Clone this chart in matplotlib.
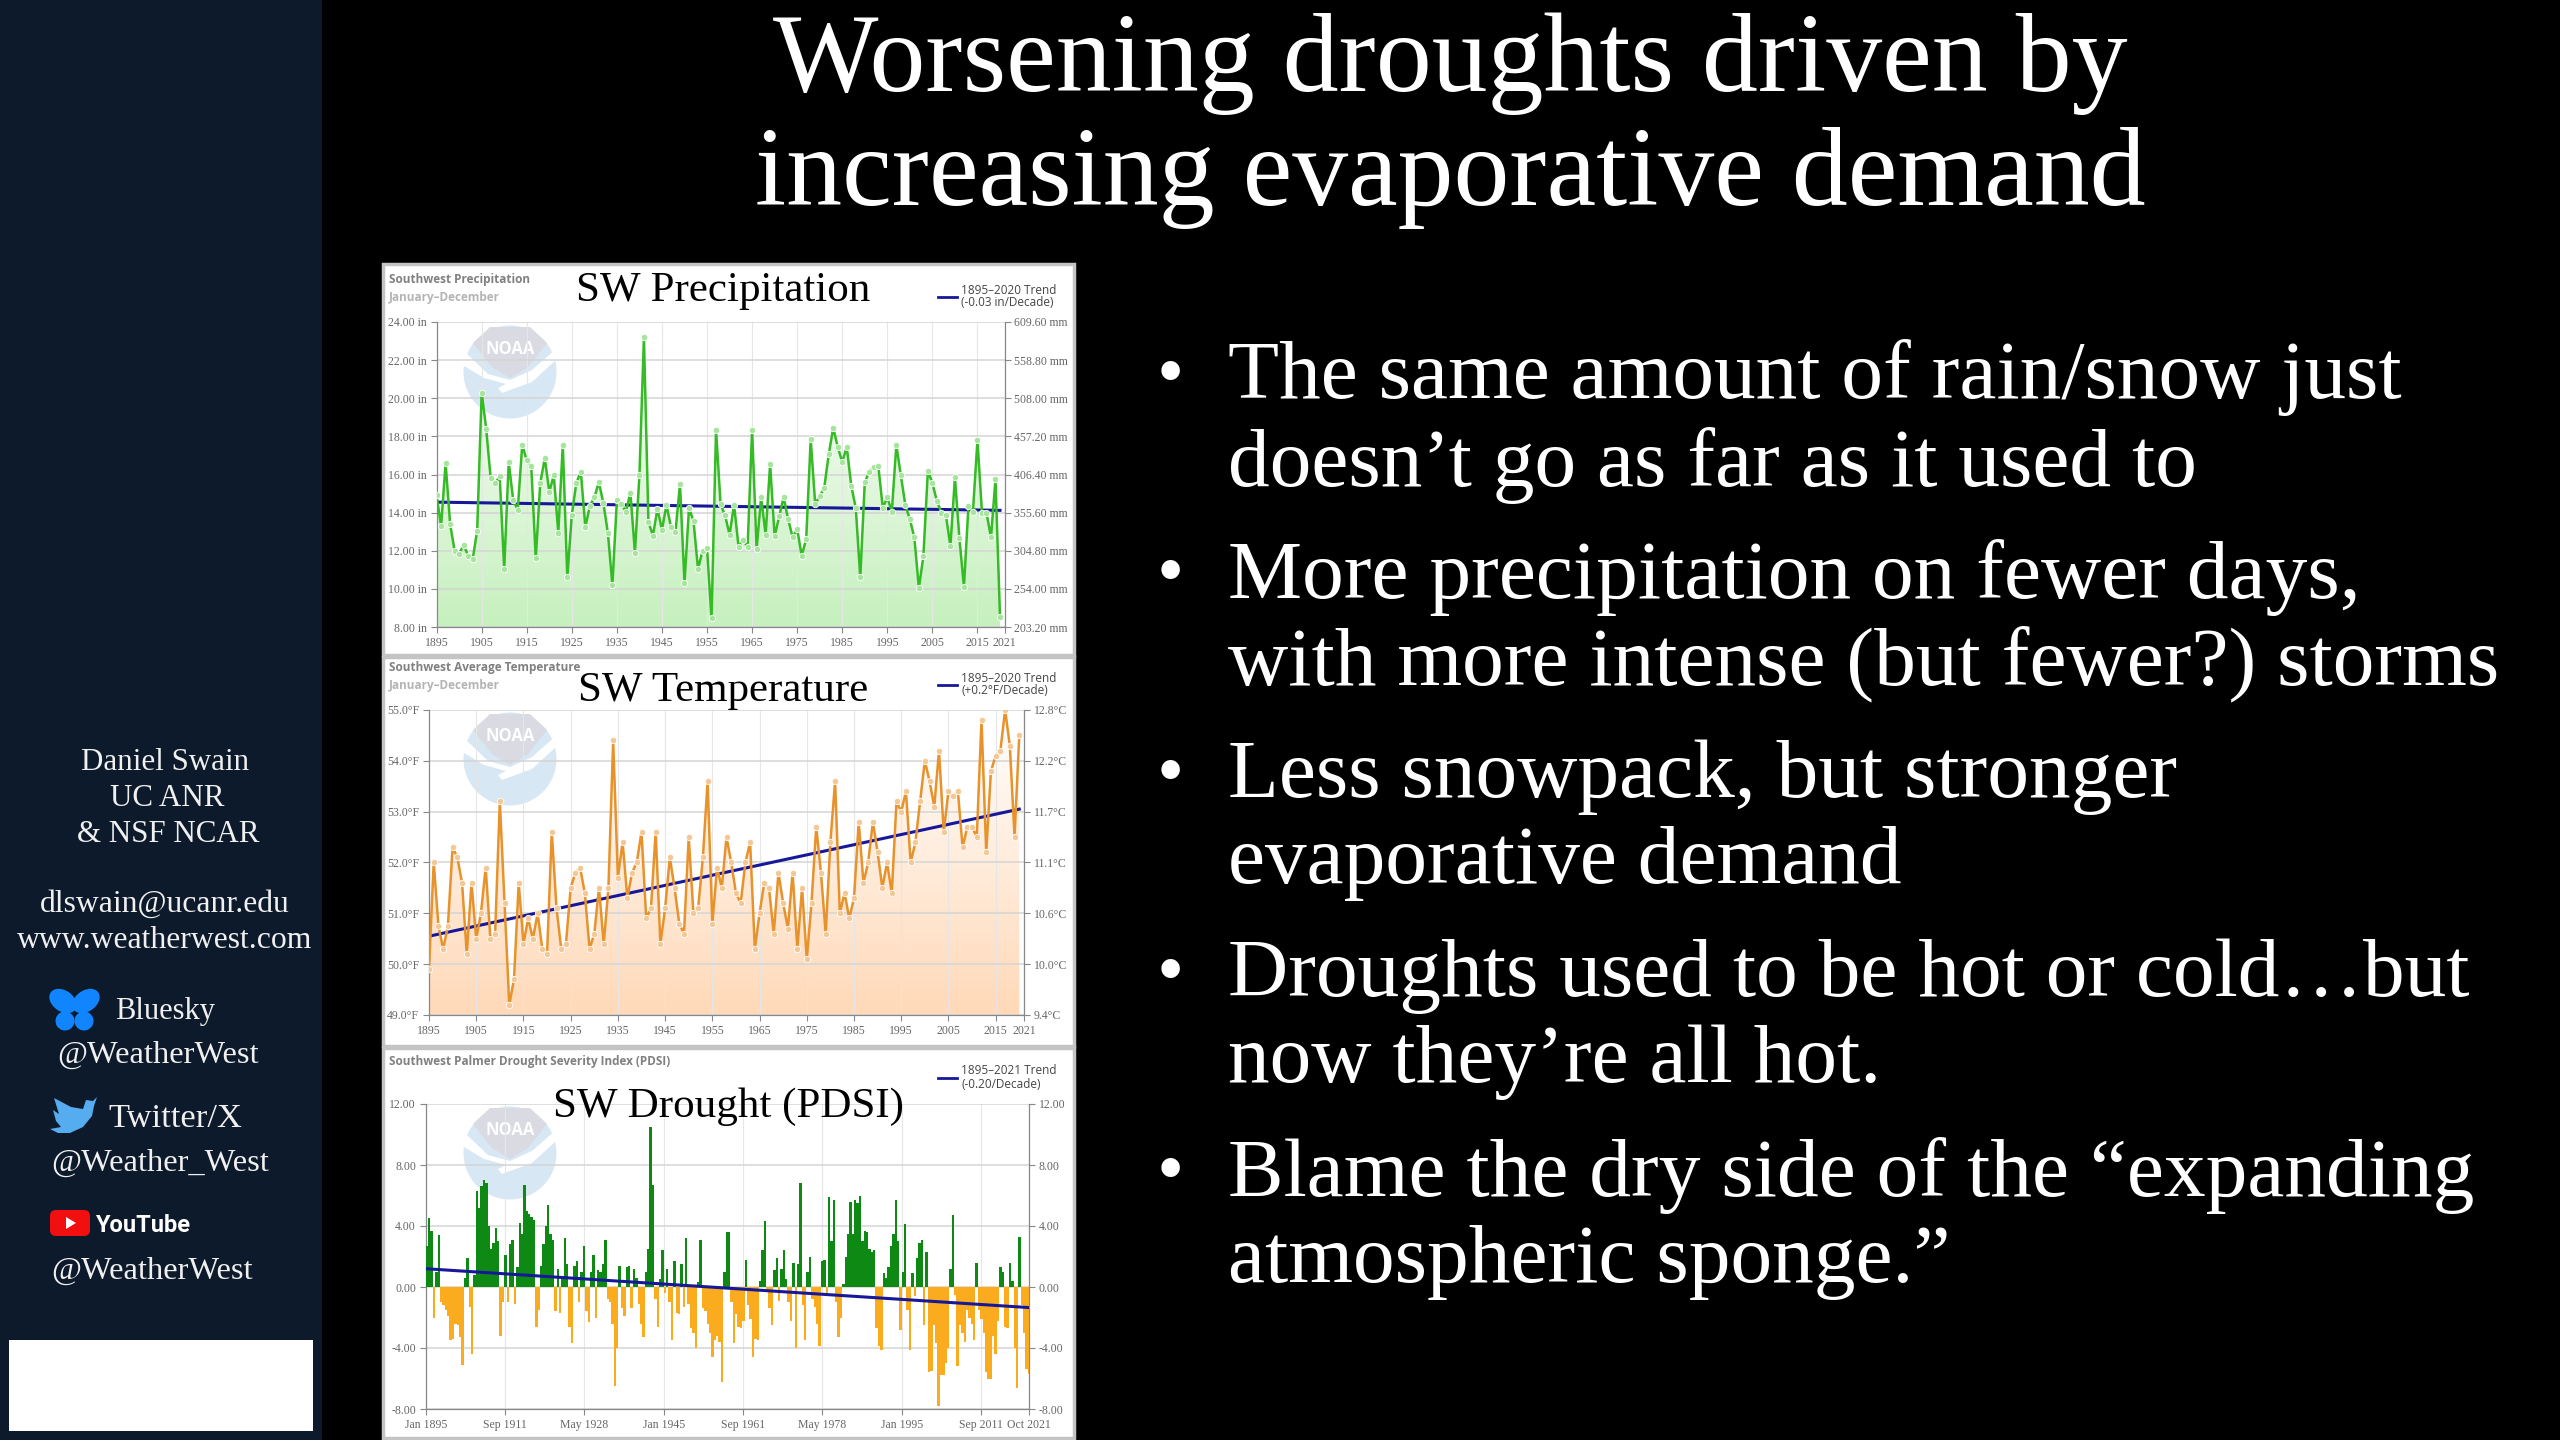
import numpy as np
import matplotlib
matplotlib.use("Agg")
import matplotlib.pyplot as plt
from matplotlib.patches import Rectangle, Ellipse, Polygon, FancyBboxPatch

W = 2560
H = 1440
SERIF = "Liberation Serif"
SANS = "Open Sans"

title_lines = ["Worsening droughts driven by", "increasing evaporative demand"]

bullets = [
    ["The same amount of rain/snow just", "doesn’t go as far as it used to"],
    ["More precipitation on fewer days,", "with more intense (but fewer?) storms"],
    ["Less snowpack, but stronger", "evaporative demand"],
    ["Droughts used to be hot or cold…but", "now they’re all hot."],
    ["Blame the dry side of the “expanding", "atmospheric sponge.”"],
]

years = list(range(1895, 2021))

precip = [
    14.9, 13.3, 16.6, 13.4, 12.0, 11.85, 12.3, 11.75, 11.55, 13.05,
    20.3, 18.4, 15.8, 15.55, 15.9, 11.05, 16.65, 14.65, 14.15, 17.55,
    16.75, 16.45, 11.6, 15.55, 16.85, 15.1, 15.95, 12.95, 17.55, 10.6,
    13.9, 15.55, 16.15, 13.25, 14.35, 14.8, 15.6, 14.5, 12.95, 10.2,
    14.65, 14.45, 14.05, 15.05, 11.9, 15.95, 23.2, 13.5, 12.8, 14.2,
    13.1, 14.4, 13.25, 13.0, 15.5, 10.3, 14.25, 13.55, 11.05, 12.0,
    12.15, 8.45, 18.35, 14.45, 13.85, 12.85, 14.4, 12.2, 12.55, 12.2,
    18.35, 12.1, 14.8, 12.85, 16.55, 12.75, 13.8, 14.8, 13.65, 12.7,
    13.15, 11.75, 12.6, 17.85, 14.45, 14.85, 15.3, 17.05, 18.45, 17.45,
    16.65, 17.45, 15.4, 14.25, 10.6, 15.6, 16.15, 16.4, 16.45, 14.25,
    14.8, 14.05, 17.55, 15.95, 14.4, 13.65, 12.7, 10.05, 11.7, 16.2,
    15.55, 14.6, 14.0, 13.85, 12.25, 15.85, 12.65, 10.1, 14.35, 14.05,
    17.8, 14.0, 14.0, 12.7, 15.75, 8.55,
]

temp = [
    49.9, 52.0, 50.75, 50.3, 50.75, 52.3, 52.1, 51.6, 50.2, 51.6,
    50.5, 51.0, 51.9, 50.5, 50.6, 53.2, 51.2, 49.2, 49.7, 51.6,
    50.4, 50.9, 50.5, 51.0, 50.3, 50.2, 52.6, 51.1, 50.3, 50.4,
    51.5, 51.8, 51.9, 51.4, 50.3, 50.6, 51.5, 50.4, 51.5, 54.4,
    51.7, 52.4, 51.3, 51.8, 52.0, 52.6, 50.9, 51.1, 52.6, 50.4,
    51.1, 52.1, 51.5, 50.8, 50.6, 52.5, 51.0, 51.1, 52.1, 53.6,
    50.8, 51.9, 51.5, 52.5, 52.0, 51.4, 51.2, 52.0, 52.4, 50.3,
    51.0, 51.6, 51.5, 50.6, 51.8, 51.2, 50.7, 51.8, 50.3, 51.5,
    50.1, 51.2, 52.7, 51.8, 50.6, 52.4, 53.6, 51.0, 51.4, 50.9,
    51.3, 52.8, 51.6, 52.0, 52.8, 52.2, 51.5, 52.0, 51.4, 53.2,
    53.0, 53.4, 52.0, 52.4, 53.2, 54.0, 53.6, 53.1, 54.2, 52.6,
    53.4, 53.3, 53.4, 52.3, 52.7, 52.7, 52.5, 54.8, 52.2, 53.8,
    54.1, 54.2, 55.0, 54.3, 52.5, 54.5,
]

# pdsi read every half year from Jan 1895
pdsi = [
    2.7, 4.5, 3.7, -2.0, 1.0, 3.4, -1.0, -1.2, -1.5, -1.9,
    -3.5, -3.4, -2.4, -2.5, -3.3, -5.1, 0.6, 1.9, -1.3, -4.4,
    0.8, 6.3, 5.2, 6.6, 7.0, 6.8, 4.0, 2.5, 2.9, 3.9,
    3.0, -3.2, -1.0, 2.1, -1.0, 2.8, 3.1, -1.1, 1.3, 4.2,
    3.5, 6.7, 5.0, 4.8, 4.6, 4.4, -2.6, -1.5, 1.4, 2.8,
    4.0, 5.4, 3.5, 3.1, -1.6, 1.2, -1.7, 0.6, 3.2, 1.5,
    -2.6, -3.7, 1.4, 1.7, -1.0, 1.0, 2.7, -1.6, -2.3, 1.0,
    2.1, -2.0, 1.1, 1.0, 1.5, 3.1, -0.8, -1.0, -2.4, -6.5,
    -4.0, 1.4, -1.4, -1.9, 1.3, 1.4, -1.4, 1.2, 0.6, -1.1,
    -2.4, -3.3, 1.0, 2.5, 10.5, 6.7, -0.8, -2.6, 0.5, 2.4,
    -0.4, 1.2, -1.0, -3.5, 1.7, -1.7, -1.8, 1.5, -1.3, 3.2,
    -1.1, -2.7, -3.0, -4.0, 0.3, 3.1, -1.4, -1.6, -2.4, -3.0,
    -4.6, -3.5, -3.2, -3.6, -6.2, 1.0, 3.6, 3.6, -1.0, -3.7,
    -1.8, -2.6, -2.7, -2.2, 1.8, -1.2, -2.1, -4.6, -3.4, -3.5,
    0.4, 2.4, 4.3, -0.3, -1.4, -2.5, 1.1, 1.9, -0.9, 1.2,
    2.4, 0.5, -1.0, -2.2, 1.6, -4.0, 1.5, 6.8, -1.2, -3.5,
    1.0, 2.0, -0.8, -1.3, -2.4, -3.9, 1.7, 1.8, -0.5, 5.9,
    3.0, 5.7, -1.0, -3.3, -2.0, 0.2, 2.0, 3.5, 5.6, 3.5,
    5.7, 5.5, 6.0, 3.0, 3.7, 3.6, 2.5, 2.3, 2.4, -2.7,
    -3.9, -4.1, 0.9, 0.6, 1.3, 2.7, 3.5, 5.7, 3.0, -2.8,
    1.0, 4.1, -1.5, -4.1, 0.9, -0.6, 1.9, 2.9, 3.1, -2.5,
    2.3, -5.6, -5.5, -2.5, -3.7, -7.8, -5.8, -5.8, -5.0, -4.0,
    1.2, 4.7, -0.5, -5.2, -2.5, -3.0, -3.6, -1.5, -2.0, -2.4,
    -3.5, 1.6, -1.5, -2.1, -3.0, -5.6, -6.0, -6.0, -3.2, -4.4,
    -2.2, 1.3, 1.0, -2.6, -2.7, 1.6, 0.4, -4.0, -6.6, 3.3,
    -1.2, -3.0, -5.4, -5.7,
]
pdsi_years = [1895 + 0.5 * i for i in range(len(pdsi))]

precip_trend_years = [1895, 2020]
precip_trend = [14.55, 14.12]
temp_trend_years = [1895, 2020]
temp_trend = [50.55, 53.05]
pdsi_trend_years = [1895, 2021.75]
pdsi_trend = [1.2, -1.35]

precip_ticks = [8, 10, 12, 14, 16, 18, 20, 22, 24]
precip_left = ["8.00 in", "10.00 in", "12.00 in", "14.00 in", "16.00 in",
               "18.00 in", "20.00 in", "22.00 in", "24.00 in"]
precip_right = ["203.20 mm", "254.00 mm", "304.80 mm", "355.60 mm", "406.40 mm",
                "457.20 mm", "508.00 mm", "558.80 mm", "609.60 mm"]
temp_ticks = [49, 50, 51, 52, 53, 54, 55]
temp_left = ["49.0°F", "50.0°F", "51.0°F", "52.0°F", "53.0°F", "54.0°F", "55.0°F"]
temp_right = ["9.4°C", "10.0°C", "10.6°C", "11.1°C", "11.7°C", "12.2°C", "12.8°C"]
pdsi_ticks = [-8, -4, 0, 4, 8, 12]
pdsi_labels = ["-8.00", "-4.00", "0.00", "4.00", "8.00", "12.00"]

year_ticks = [1895, 1905, 1915, 1925, 1935, 1945, 1955, 1965, 1975, 1985, 1995, 2005, 2015, 2021]
pdsi_xticks = [1895, 1911.67, 1928.33, 1945, 1961.67, 1978.33, 1995, 2011.67, 2021.75]
pdsi_xlabels = ["Jan 1895", "Sep 1911", "May 1928", "Jan 1945", "Sep 1961",
                "May 1978", "Jan 1995", "Sep 2011", "Oct 2021"]


def px_axes(left, top, right, bottom, zorder):
    ax = fig.add_axes([left / W, 1 - bottom / H, (right - left) / W, (bottom - top) / H], zorder=zorder)
    ax.patch.set_alpha(0)
    return ax


def style_chart(ax, xlim, ylim, xticks, xlabels, yticks, left_labels, right_labels):
    ax.set_xlim(*xlim)
    ax.set_ylim(*ylim)
    ax.set_xticks(xticks)
    ax.set_xticklabels(xlabels, family=SERIF, fontsize=8.5, color="#666666")
    ax.set_yticks(yticks)
    ax.set_yticklabels(left_labels, family=SERIF, fontsize=8.5, color="#666666")
    ax.grid(axis="y", color="#d4d4d4", lw=1.1)
    ax.grid(axis="x", color="#e6e6e6", lw=0.8)
    ax.set_axisbelow(True)
    ax.tick_params(length=4, width=0.8, color="#888888", pad=3)
    ax.spines["top"].set_visible(False)
    for side in ["left", "right", "bottom"]:
        ax.spines[side].set_color("#888888")
        ax.spines[side].set_linewidth(0.9)
    twin = ax.twinx()
    twin.set_ylim(*ylim)
    twin.set_yticks(yticks)
    twin.set_yticklabels(right_labels, family=SERIF, fontsize=8.5, color="#666666")
    twin.tick_params(length=4, width=0.8, color="#888888", pad=3)
    twin.patch.set_alpha(0)
    for spine in twin.spines.values():
        spine.set_visible(False)


def area_line(ax, x, y, ylim, line_color, marker_color, top_rgb, bottom_rgb):
    steps = np.linspace(0, 1, 200)[:, None, None]
    grad = (1 - steps) * np.array(top_rgb)[None, None, :] + steps * np.array(bottom_rgb)[None, None, :]
    im = ax.imshow(grad / 255, extent=[x[0], x[-1], ylim[0], ylim[1]], aspect="auto", zorder=0.3)
    verts = [(x[0], ylim[0])] + list(zip(x, y)) + [(x[-1], ylim[0])]
    clip = Polygon(verts, closed=True, transform=ax.transData, fc="none", ec="none")
    ax.add_patch(clip)
    im.set_clip_path(clip)
    ax.plot(x, y, color=line_color, lw=1.8, zorder=3)
    ax.plot(x, y, ls="none", marker="o", ms=4.6, mfc=marker_color, mec="white", mew=0.6, zorder=4)


def noaa_logo(ax, cx, cy):
    ax.add_patch(Ellipse((cx, cy), 93, 93, fc="#d7e7f3", ec="none"))
    gray = [(-37, -29), (-20, -45), (20, -45), (37, -29), (18, -5), (0, 6), (-18, -5)]
    ax.add_patch(Polygon([(cx + a, cy + b) for a, b in gray], fc="#d9dae2", ec="none"))
    swoosh = [(-47, -22), (-22, 2), (0, 8), (22, -2), (47, -24), (46, -12), (22, 10),
              (-8, 21), (-12, 16), (-4, 12), (-26, 6), (-46, -6)]
    ax.add_patch(Polygon([(cx + a, cy + b) for a, b in swoosh], fc="white", ec="none"))
    ax.text(cx, cy - 23, "NOAA", family=SANS, fontsize=12, weight="bold", color="white",
            ha="center", va="center")


fig = plt.figure(figsize=(W / 100, H / 100), dpi=100, facecolor="black")

bg = px_axes(0, 0, W, H, 0)
bg.set_xlim(0, W)
bg.set_ylim(H, 0)
bg.axis("off")
bg.add_patch(Rectangle((0, 0), 322, H, fc="#0d1a2b", ec="none"))
for top, bottom in [(264, 655), (657, 1046), (1048, 1438)]:
    bg.add_patch(Rectangle((383, top), 691, bottom - top, fc="white", ec="#c4c4c4", lw=2.5))
for cy in [372, 759, 1153]:
    noaa_logo(bg, 510, cy)

# precipitation panel
ax1 = px_axes(436.6, 322, 1004.5, 627, 1)
area_line(ax1, years, precip, (8, 24), "#35bb25", "#a5e59c", (255, 255, 255), (198, 240, 190))
style_chart(ax1, (1895, 2021), (8, 24), year_ticks, [str(y) for y in year_ticks],
            precip_ticks, precip_left, precip_right)
ax1.plot(precip_trend_years, precip_trend, color="#17179a", lw=2.2, zorder=2.5)

# temperature panel
ax2 = px_axes(429, 710, 1024, 1015, 1)
area_line(ax2, years, temp, (49, 55), "#e8922c", "#f5c794", (255, 255, 255), (255, 217, 184))
style_chart(ax2, (1895, 2021), (49, 55), year_ticks, [str(y) for y in year_ticks],
            temp_ticks, temp_left, temp_right)
ax2.plot(temp_trend_years, temp_trend, color="#17179a", lw=2.2, zorder=2.5)

# drought panel
ax3 = px_axes(425.7, 1104, 1029, 1409, 1)
bar_colors = ["#0e8a14" if v >= 0 else "#fbab1e" for v in pdsi]
ax3.bar(pdsi_years, pdsi, width=0.5, align="edge", color=bar_colors, lw=0, zorder=3)
style_chart(ax3, (1895, 2021.75), (-8, 12), pdsi_xticks, pdsi_xlabels,
            pdsi_ticks, pdsi_labels, pdsi_labels)
ax3.plot(pdsi_trend_years, pdsi_trend, color="#17179a", lw=2.2, zorder=5)

top = px_axes(0, 0, W, H, 5)
top.set_xlim(0, W)
top.set_ylim(H, 0)
top.axis("off")

for text, y in zip(title_lines, [64, 178]):
    top.text(1450, y, text, family=SERIF, fontsize=80.5, color="white", ha="center", va="center")

bullet_y = [(378, 465), (577, 664), (777, 863), (976, 1062), (1175, 1262)]
for lines, ys in zip(bullets, bullet_y):
    top.text(1170, ys[0], "•", family=SERIF, fontsize=56, color="white", ha="center", va="center")
    for text, y in zip(lines, ys):
        top.text(1228, y, text, family=SERIF, fontsize=60, color="white", ha="left", va="center")

panel_head = [
    ("Southwest Precipitation", 279, "January–December", 298),
    ("Southwest Average Temperature", 667, "January–December", 686),
    ("Southwest Palmer Drought Severity Index (PDSI)", 1061, "", 0),
]
for head, y1, sub, y2 in panel_head:
    top.text(389, y1, head, family=SANS, fontsize=8.5, weight="bold", color="#808080", va="center")
    if sub:
        top.text(389, y2, sub, family=SANS, fontsize=8.5, weight="bold", color="#b4b4b4", va="center")

panel_names = [("SW Precipitation", 723, 291), ("SW Temperature", 723, 691), ("SW Drought (PDSI)", 728, 1107)]
for name, x, y in panel_names:
    top.text(x, y, name, family=SERIF, fontsize=31, color="black", ha="center", va="center")

legend_rows = [
    (297, "1895–2020 Trend", 290, "(-0.03 in/Decade)", 303),
    (685, "1895–2020 Trend", 678, "(+0.2°F/Decade)", 691),
    (1078, "1895–2021 Trend", 1071, "(-0.20/Decade)", 1085),
]
for line_y, t1, y1, t2, y2 in legend_rows:
    top.plot([938, 957], [line_y, line_y], color="#17179a", lw=2)
    top.text(961, y1, t1, family=SANS, fontsize=8.5, color="#444444", va="center")
    top.text(961, y2, t2, family=SANS, fontsize=8.5, color="#444444", va="center")

side_text = [
    ("Daniel Swain", 165, 762, 22.3), ("UC ANR", 167, 798, 22.3), ("& NSF NCAR", 168, 834, 22.3),
    ("dlswain@ucanr.edu", 165, 904, 22.8), ("www.weatherwest.com", 165, 940, 22.8),
    ("Bluesky", 165, 1011, 22), ("@WeatherWest", 158, 1055, 23.4),
    ("Twitter/X", 175, 1119, 24.8), ("@Weather_West", 160, 1163, 23.4),
    ("@WeatherWest", 152, 1271, 23.4),
]
for text, x, y, size in side_text:
    top.text(x, y, text, family=SERIF, fontsize=size, color="#f0f0f0", ha="center", va="center")

# bluesky butterfly
for cx, cy, w, h, ang in [(63, 1001, 30, 21, 35), (86, 1001, 30, 21, -35), (65, 1021, 19, 19, -30), (84, 1021, 19, 19, 30)]:
    top.add_patch(Ellipse((cx, cy), w, h, angle=ang, fc="#1185fe", ec="none"))

# twitter bird
bird = [(50, 1129), (61, 1127), (56, 1121), (53, 1110), (59, 1114), (54, 1098), (71, 1107), (83, 1109),
        (86, 1100), (93, 1101), (97, 1097), (94, 1106), (92, 1116), (83, 1127), (70, 1133), (58, 1133)]
top.add_patch(Polygon(bird, fc="#55acee", ec="none"))

# youtube logo
top.add_patch(FancyBboxPatch((53, 1213), 34, 20, boxstyle="round,pad=3,rounding_size=6", fc="#f10f0f", ec="none"))
top.add_patch(Polygon([(66, 1217), (66, 1229), (76, 1223)], fc="white", ec="none"))
top.text(95, 1225, "YouTube", family="Roboto", fontsize=17, weight="bold", color="white", va="center")

top.add_patch(Rectangle((9, 1340), 304, 91, fc="white", ec="none"))

fig.savefig("out.png", dpi=100, facecolor="black")
